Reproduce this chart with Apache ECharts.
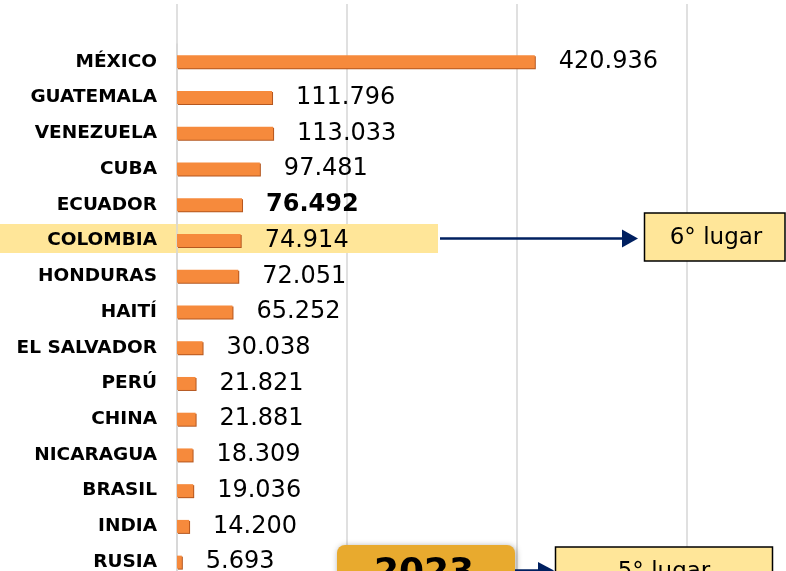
<!DOCTYPE html>
<html>
<head>
<meta charset="utf-8">
<script src="https://cdn.jsdelivr.net/npm/echarts@6/dist/echarts.min.js"></script>
<style>
html,body{margin:0;padding:0;background:#fff;}
#chart{width:786px;height:571px;}
</style>
</head>
<body>
<div id="chart"></div>
<script>
// ---- data ----
const categories = ['MÉXICO','GUATEMALA','VENEZUELA','CUBA','ECUADOR','COLOMBIA','HONDURAS','HAITÍ','EL SALVADOR','PERÚ','CHINA','NICARAGUA','BRASIL','INDIA','RUSIA'];
const values = [420936,111796,113033,97481,76492,74914,72051,65252,30038,21821,21881,18309,19036,14200,5693];
const xTicks = [0,200000,400000,600000,800000,1000000];
const boldValueFor = ['ECUADOR'];

function fmt(v){ return String(v).replace(/\B(?=(\d{3})+(?!\d))/g,'.'); }

const chart = echarts.init(document.getElementById('chart'), null, {renderer:'canvas'});
const FONT = '"DejaVu Sans", Verdana, sans-serif';

const barData = values.map((v,i)=>{
  const item = {value:v};
  if (boldValueFor.indexOf(categories[i])>=0) item.label = {fontWeight:'bold'};
  return item;
});

const option = {
  backgroundColor:'#ffffff',
  animation:false,
  grid:[
    {left:177, right:-241, top:44, bottom:-9, containLabel:false, outerBoundsMode:'none'},
    {left:177, right:-241, top:4, bottom:-10, containLabel:false, outerBoundsMode:'none'}
  ],
  xAxis:[
    {type:'value', gridIndex:0, min:xTicks[0], max:xTicks[xTicks.length-1], interval:xTicks[1]-xTicks[0],
     axisLine:{show:false}, axisTick:{show:false}, axisLabel:{show:false}, splitLine:{show:false}},
    {type:'value', gridIndex:1, z:0, min:xTicks[0], max:xTicks[xTicks.length-1], interval:xTicks[1]-xTicks[0],
     axisLine:{show:false}, axisTick:{show:false}, axisLabel:{show:false},
     splitLine:{show:true, lineStyle:{color:'#d9d9d9', width:1.6}}}
  ],
  yAxis:[
    {type:'category', gridIndex:0, z:2, data:categories, inverse:true, offset:2,
     axisLine:{show:true, lineStyle:{color:'#d6d6d6', width:1.5}},
     axisTick:{show:false},
     axisLabel:{margin:18, color:'#000', fontFamily:FONT, fontWeight:'bold', fontSize:18.5}},
    {type:'value', gridIndex:1, show:false}
  ],
  graphic:[
    {type:'rect', z:1, shape:{x:0, y:224, width:438, height:29}, style:{fill:'#FFE699'}},
    {type:'line', z:5, shape:{x1:440, y1:238.5, x2:626, y2:238.5}, style:{stroke:'#002060', lineWidth:2.5}},
    {type:'polygon', z:5, shape:{points:[[622,229.5],[638,238.5],[622,247.5]]}, style:{fill:'#002060'}},
    {type:'rect', z:5, shape:{x:644.5, y:213, width:140.5, height:48}, style:{fill:'#FFE699', stroke:'#000', lineWidth:1.5}},
    {type:'text', z:6, x:716, y:238, style:{text:'6° lugar', font:'23px '+FONT, fill:'#000', textAlign:'center', textVerticalAlign:'middle'}},

    {type:'rect', z:5, shape:{x:337, y:545, width:178, height:50, r:8},
     style:{fill:'#E8AA2E', shadowColor:'rgba(0,0,0,0.35)', shadowBlur:6, shadowOffsetX:1, shadowOffsetY:1}},
    {type:'text', z:6, x:424, y:574, style:{text:'2023', font:'bold 36px '+FONT, fill:'#000', textAlign:'center', textVerticalAlign:'middle'}},
    {type:'line', z:5, shape:{x1:515, y1:570.5, x2:542, y2:570.5}, style:{stroke:'#002060', lineWidth:2.5}},
    {type:'polygon', z:5, shape:{points:[[538,562],[554,570.5],[538,579]]}, style:{fill:'#002060'}},
    {type:'rect', z:5, shape:{x:555.5, y:547, width:217, height:50}, style:{fill:'#FFE699', stroke:'#000', lineWidth:1.5}},
    {type:'text', z:6, x:664, y:572, style:{text:'5° lugar', font:'23px '+FONT, fill:'#000', textAlign:'center', textVerticalAlign:'middle'}}
  ],
  series:[{
    type:'bar', xAxisIndex:0, yAxisIndex:0, data:barData, barWidth:13, z:3,
    itemStyle:{color:'#F68A3C', shadowColor:'#B5571F', shadowBlur:0, shadowOffsetX:1, shadowOffsetY:1},
    label:{show:true, position:'right', distance:24, formatter:p=>fmt(p.value),
           fontFamily:FONT, fontSize:24, color:'#000'}
  }]
};
chart.setOption(option);
</script>
</body>
</html>
